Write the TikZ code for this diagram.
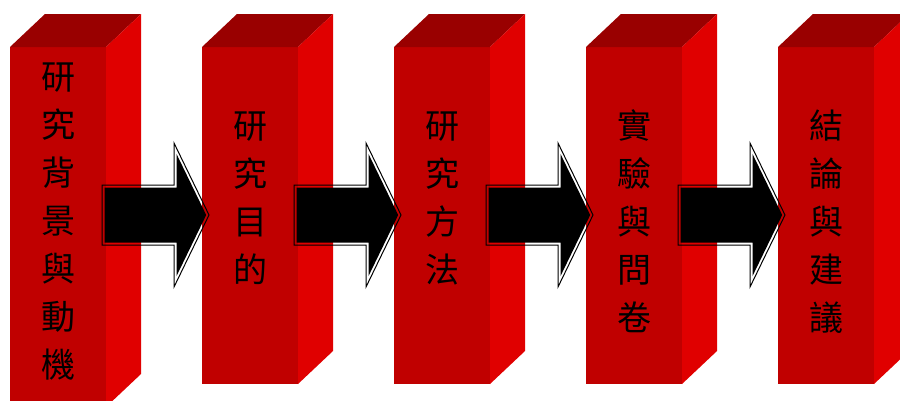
\documentclass[tikz,border=0pt]{standalone}
\usepackage{fontspec}
\newfontfamily\cjk{Noto Sans CJK TC}
\definecolor{frontc}{HTML}{C00000}
\definecolor{topc}{HTML}{990000}
\definecolor{sidec}{HTML}{E00000}
\begin{document}
\begin{tikzpicture}[x=1pt,y=-1pt,
  ch/.style={font=\cjk\fontsize{34}{34}\selectfont, text height=0.88em, text depth=0.12em, inner sep=0pt, text=black},
  arrowline/.style={draw=black, line width=1pt, line join=miter},
  arrowfill/.style={fill=black}]
\useasboundingbox (0,0) rectangle (900,400);
\clip (0,0) rectangle (900,400);
\newcommand\drawprism[2]{%
  \fill[frontc] (#1,47) rectangle (#1+96,#2);
  \fill[topc] (#1,47) -- (#1+35,14) -- (#1+131,14) -- (#1+96,47) -- cycle;
  \fill[sidec] (#1+96,47) -- (#1+131,14) -- (#1+131,#2-33) -- (#1+96,#2) -- cycle;
}
\drawprism{10}{407}
\drawprism{202}{384}
\drawprism{394}{384}
\drawprism{586}{384}
\drawprism{778}{384}
% block arrows
\foreach \i in {0,1,2,3}{
  \pgfmathsetmacro\o{192*\i}
  \draw[arrowline] (102+\o,185) -- (174+\o,185) -- (174+\o,143) -- (209+\o,215) -- (174+\o,287) -- (174+\o,245) -- (102+\o,245) -- cycle;
  \fill[arrowfill] (104.5+\o,187.5) -- (176.5+\o,187.5) -- (176.5+\o,153.9) -- (206.2+\o,215) -- (176.5+\o,276.1) -- (176.5+\o,242.5) -- (104.5+\o,242.5) -- cycle;
}
% texts
\foreach \c [count=\k from 0] in {研,究,背,景,與,動,機}
  \node[ch] (a\k) at (58,86+48*\k) {\c};
\foreach \c [count=\k from 0] in {研,究,目,的}
  \node[ch] (b\k) at (250,135+48*\k) {\c};
\foreach \c [count=\k from 0] in {研,究,方,法}
  \node[ch] (c\k) at (442,135+48*\k) {\c};
\foreach \c [count=\k from 0] in {實,驗,與,問,卷}
  \node[ch] (d\k) at (634,135+48*\k) {\c};
\foreach \c [count=\k from 0] in {結,論,與,建,議}
  \node[ch] (e\k) at (826,135+48*\k) {\c};
\end{tikzpicture}
\end{document}
